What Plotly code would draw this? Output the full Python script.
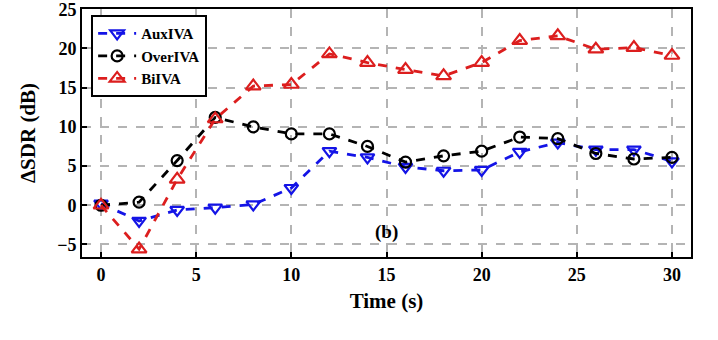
import plotly.graph_objects as go

time_s = [0, 2, 4, 6, 8, 10, 12, 14, 16, 18, 20, 22, 24, 26, 28, 30]
auxiva = [0.2, -2.0, -0.6, -0.3, 0.1, 2.2, 6.9, 6.1, 4.9, 4.4, 4.5, 6.8, 8.0, 7.1, 7.1, 5.6]
overiva = [0.0, 0.4, 5.7, 11.2, 10.0, 9.1, 9.1, 7.5, 5.5, 6.3, 6.9, 8.7, 8.5, 6.6, 5.9, 6.1]
biiva = [0.0, -5.6, 3.3, 11.0, 15.2, 15.4, 19.3, 18.2, 17.3, 16.5, 18.2, 21.0, 21.6, 19.9, 20.1, 19.1]

FONT = "Liberation Serif"

fig = go.Figure()
series = [
    ("AuxIVA", auxiva, "#1414e6", "triangle-down-open", 12),
    ("OverIVA", overiva, "black", "circle-open", 11),
    ("BiIVA", biiva, "#dc1e1e", "triangle-up-open", 13),
]
for name, vals, color, sym, size in series:
    fig.add_trace(go.Scatter(
        x=time_s, y=vals, name=name, mode="lines+markers",
        line=dict(color=color, width=2.8, dash="dash"),
        marker=dict(symbol=sym, size=size, color=color, line=dict(width=2.2, color=color)),
    ))

axis_common = dict(
    showline=True, linecolor="black", linewidth=2, mirror=True,
    ticks="inside", ticklen=5, tickwidth=2, tickcolor="black",
    showgrid=True, gridcolor="#b4b4b4", griddash="dash", gridwidth=1.5,
    zeroline=False, automargin=False, ticklabeloverflow="allow",
    tickfont=dict(family=FONT, size=18, color="black", weight="bold"),
)

fig.update_xaxes(
    range=[-1, 31], tickvals=[0, 5, 10, 15, 20, 25, 30],
    title=dict(text="Time (s)", font=dict(family=FONT, size=21, color="black", weight="bold"), standoff=10),
    **axis_common,
)
fig.update_yaxes(
    range=[-6.6, 25.03], tickvals=[-5, 0, 5, 10, 15, 20, 25],
    ticktext=["\u22125", "0", "5", "10", "15", "20", "25"],
    title=dict(text="\u0394SDR (dB)", font=dict(family=FONT, size=21, color="black", weight="bold"), standoff=16),
    **axis_common,
)

fig.add_annotation(
    x=15, y=-3.4, text="(b)", showarrow=False,
    font=dict(family=FONT, size=19, color="black", weight="bold"),
)

fig.update_layout(
    width=718, height=340,
    margin=dict(l=82, r=27, t=9, b=83),
    plot_bgcolor="white", paper_bgcolor="white",
    font=dict(family=FONT, color="black"),
    legend=dict(
        x=0.015, y=0.975, xanchor="left", yanchor="top",
        bgcolor="white", bordercolor="black", borderwidth=2,
        font=dict(family=FONT, size=15, color="black", weight="bold"),
        itemwidth=38, tracegroupgap=0,
    ),
)

fig.write_html(
    "out.html",
    config={"displayModeBar": False},
    post_script="document.body.style.margin='0';",
)
